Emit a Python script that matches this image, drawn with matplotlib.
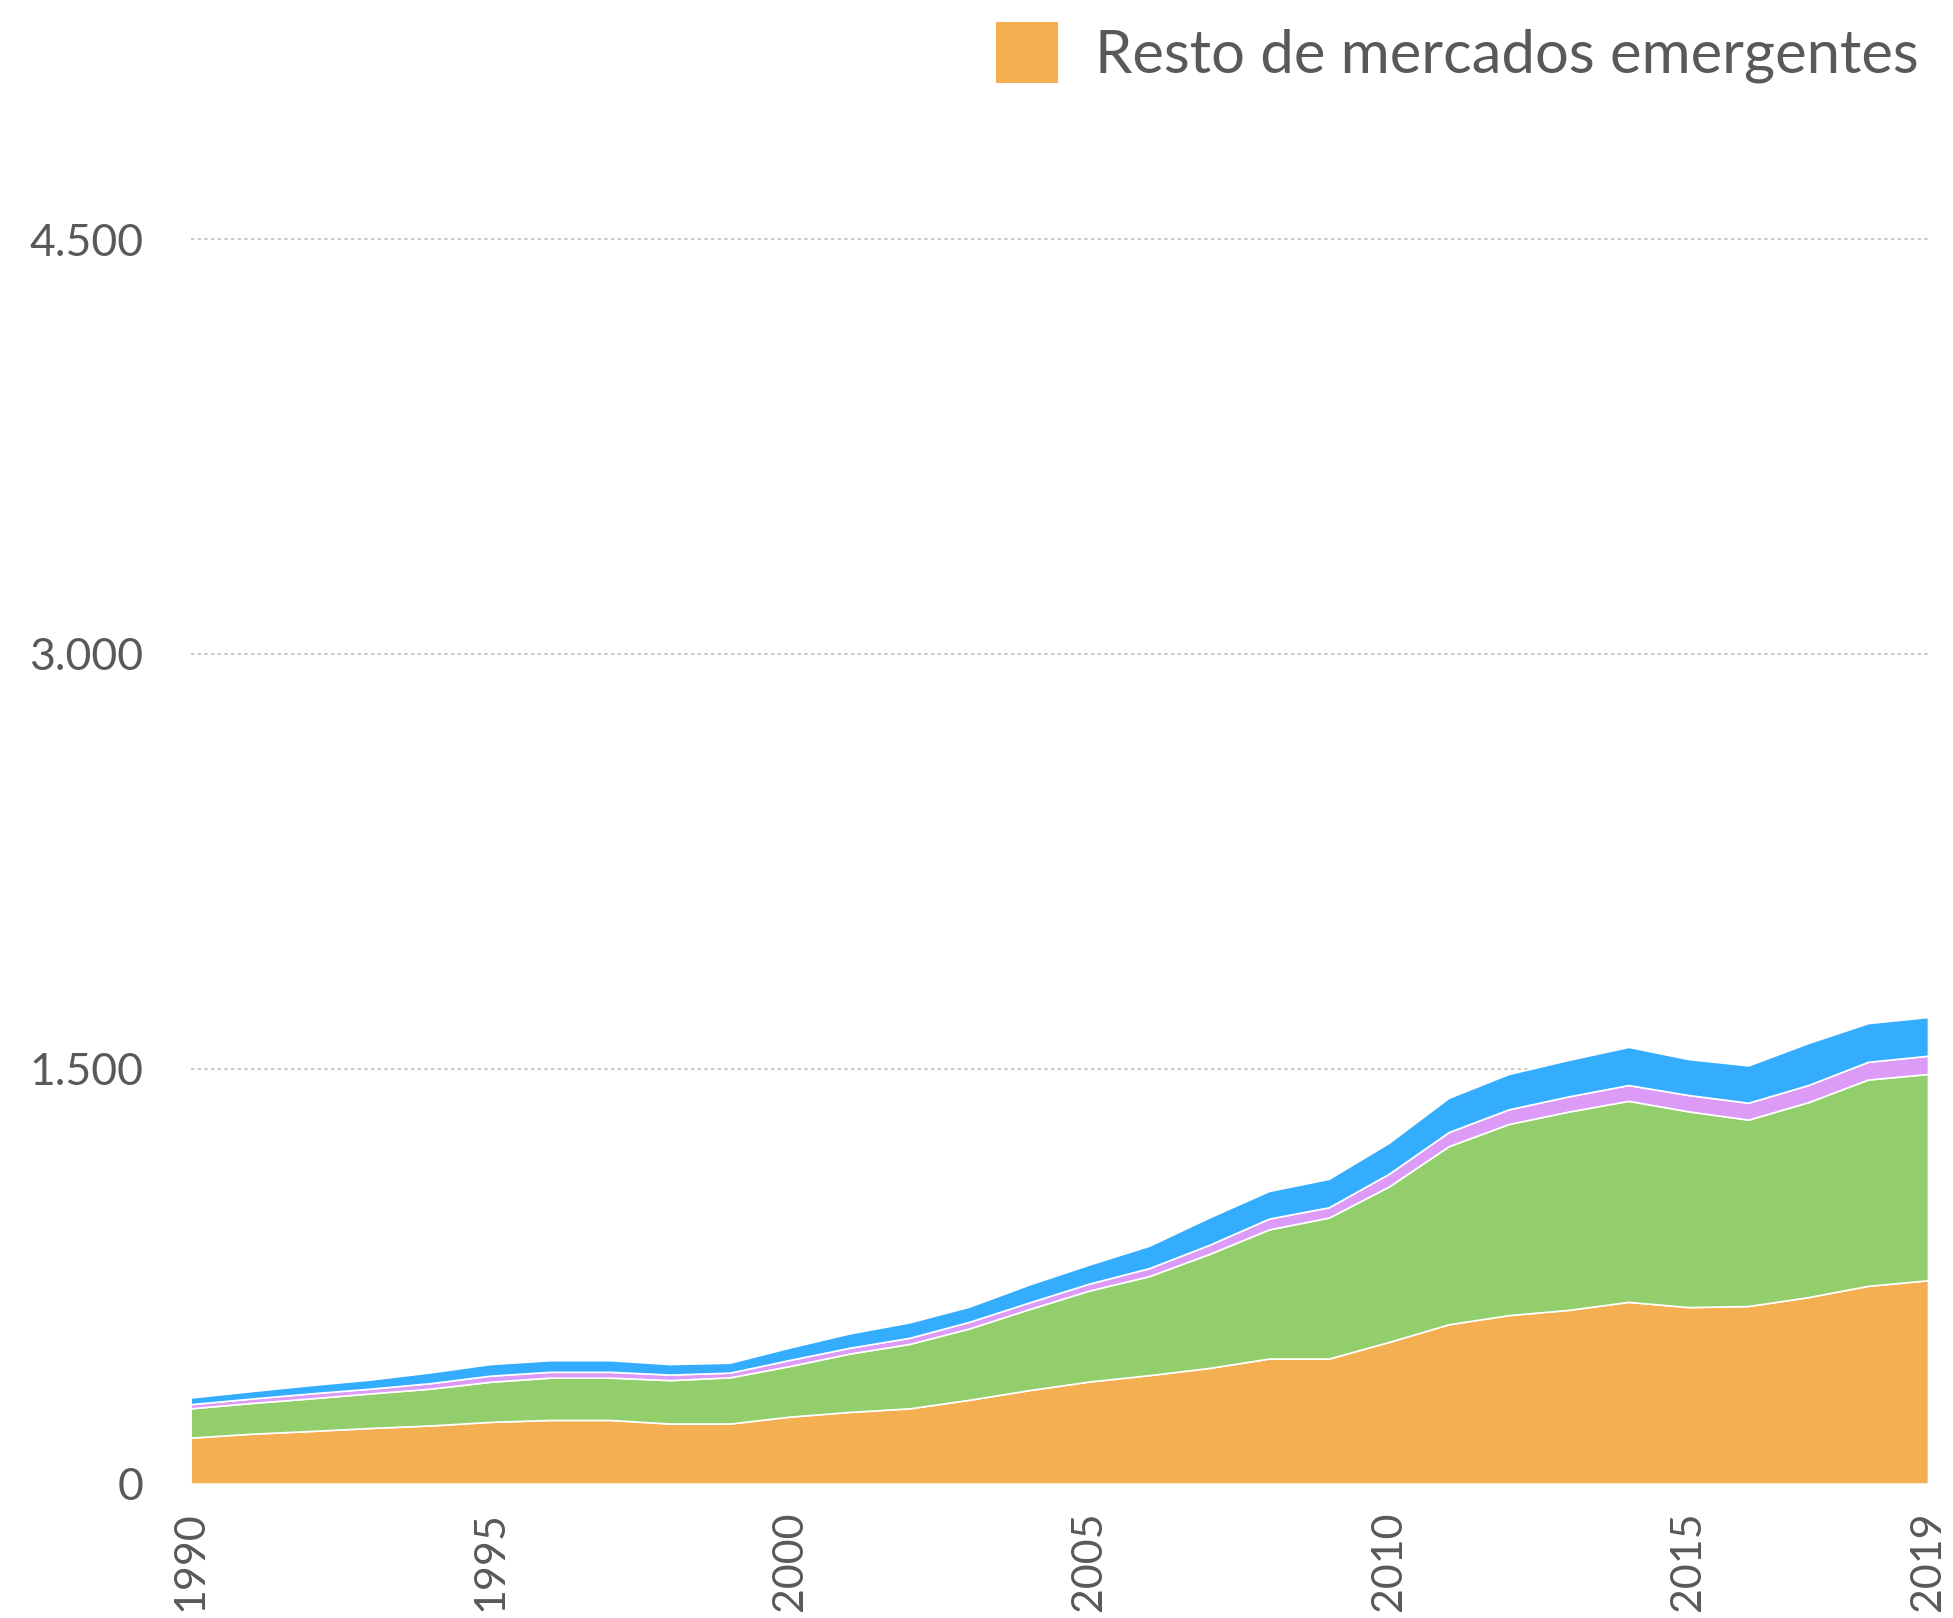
import matplotlib.pyplot as plt
from matplotlib.patches import Patch

# years on the x axis
years = list(range(1990, 2020))

# stacked layers, bottom to top
resto_emergentes = [166, 180, 190, 201, 210, 223, 230, 230, 217, 217,
                    242, 259, 272, 303, 338, 369, 392, 418, 452, 452,
                    512, 576, 609, 628, 657, 638, 642, 674, 715, 735]
serie_verde = [106, 111, 118, 125, 133, 145, 153, 153, 157, 167,
               183, 211, 233, 258, 293, 329, 358, 412, 467, 510,
               562, 644, 691, 717, 727, 708, 674, 705, 746, 746]
serie_morada = [15, 16, 18, 17, 20, 22, 21, 21, 20, 17,
                22, 21, 22, 24, 24, 25, 29, 33, 39, 37,
                46, 51, 53, 55, 57, 59, 61, 62, 64, 66]
serie_azul = [24, 27, 30, 33, 39, 42, 42, 42, 38, 36,
              45, 52, 56, 55, 65, 69, 81, 99, 100, 103,
              112, 124, 128, 132, 138, 130, 135, 152, 140, 140]

legend_label = "Resto de mercados emergentes"
y_ticks = [0, 1500, 3000, 4500]
y_tick_labels = ["0", "1.500", "3.000", "4.500"]
x_ticks = [1990, 1995, 2000, 2005, 2010, 2015, 2019]

colors = ["#F5AF53", "#92CE6C", "#DB9BF7", "#35ADFE"]
text_color = "#595959"

plt.rcParams['font.family'] = ['Lato', 'DejaVu Sans']

fig = plt.figure(figsize=(19.53, 16.18), dpi=100)
ax = fig.add_axes([0.0976, 0.0831, 0.8896, 0.8546])

ax.stackplot(years, resto_emergentes, serie_verde, serie_morada, serie_azul,
             colors=colors, edgecolor="white", linewidth=1.2, zorder=2)

ax.set_xlim(1990, 2019)
ax.set_ylim(0, 5000)
ax.set_yticks(y_ticks)
ax.set_yticklabels(y_tick_labels)
ax.set_xticks(x_ticks)
ax.set_xticklabels([str(x) for x in x_ticks], rotation=90)

ax.grid(axis="y", color="#BFBFBF", linestyle=(0, (2, 2)), linewidth=1.2, zorder=1)
ax.set_axisbelow(True)
for s in ax.spines.values():
    s.set_visible(False)
ax.tick_params(axis="y", length=0, pad=34, labelsize=32, labelcolor=text_color)
ax.tick_params(axis="x", length=0, pad=20, labelsize=31, labelcolor=text_color)

handles = [Patch(facecolor=colors[0], edgecolor="none")]
fig.legend(handles, [legend_label], loc="upper right",
           bbox_to_anchor=(1919 / 1953, 1 - 22 / 1618),
           frameon=False, fontsize=43, labelcolor=text_color,
           handlelength=1.05, handleheight=1.2, handletextpad=0.62,
           borderpad=0, borderaxespad=0)

fig.savefig("out.png", dpi=100)
